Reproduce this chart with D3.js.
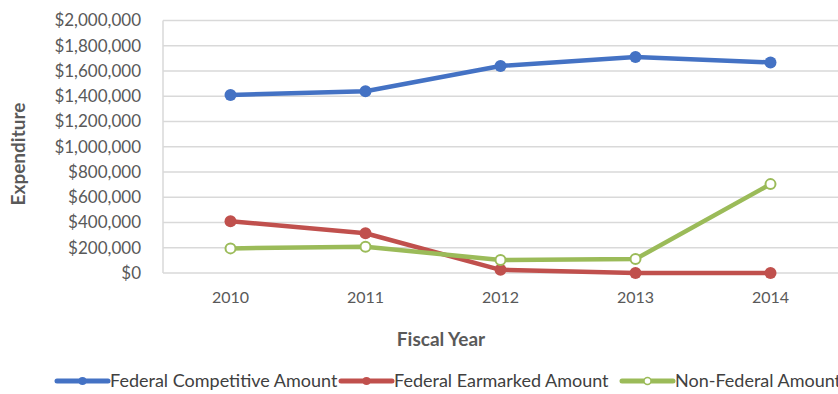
<!DOCTYPE html>
<html>
<head>
<meta charset="utf-8">
<script src="https://cdn.jsdelivr.net/npm/d3@7"></script>
<style>
body { margin:0; background:#fff; }
svg { display:block; font-family: Lato, 'Open Sans', sans-serif; }
</style>
</head>
<body>
<div id="graph"></div>
<script>
var years = ['2010', '2011', '2012', '2013', '2014']
var competitive = [1410000, 1440000, 1640000, 1710000, 1668000]
var earmarked = [410000, 315000, 25000, 0, 0]
var nonFederal = [195000, 208000, 103000, 110000, 704000]
var yTicks = [0, 200000, 400000, 600000, 800000, 1000000, 1200000, 1400000, 1600000, 1800000, 2000000]

var series = [
	{ label: 'Federal Competitive Amount', values: competitive, color: '#4472c4', hollow: false },
	{ label: 'Federal Earmarked Amount', values: earmarked, color: '#c0504d', hollow: false },
	{ label: 'Non-Federal Amount', values: nonFederal, color: '#9bbb59', hollow: true }
]

var width = 838
var height = 394

var svg = d3.select('#graph').append('svg')
	.attr('width', width)
	.attr('height', height)

var marginLeft = 163
var marginRight = 838
var marginTop = 20.5
var marginBottom = 273

var xScale = d3.scaleBand()
	.domain(years)
	.range([marginLeft, marginRight])

var yScale = d3.scaleLinear()
	.domain([0, 2000000])
	.range([marginBottom, marginTop])

var fmt = d3.format(',')

// gridlines
svg.selectAll('.grid')
	.data(yTicks)
	.enter().append('line')
	.attr('x1', marginLeft)
	.attr('x2', marginRight)
	.attr('y1', function(d) { return yScale(d) })
	.attr('y2', function(d) { return yScale(d) })
	.attr('stroke', '#d9d9d9')
	.attr('stroke-width', 1.5)

svg.append('line')
	.attr('x1', marginLeft).attr('x2', marginLeft)
	.attr('y1', marginTop).attr('y2', marginBottom)
	.attr('stroke', '#d9d9d9')
	.attr('stroke-width', 1.5)

// y labels
svg.selectAll('.ylab')
	.data(yTicks)
	.enter().append('text')
	.attr('x', 141)
	.attr('y', function(d) { return yScale(d) })
	.attr('dy', '0.35em')
	.attr('text-anchor', 'end')
	.attr('font-size', 17)
	.attr('fill', '#595959')
	.text(function(d) { return '$' + fmt(d) })

// x labels
svg.selectAll('.xlab')
	.data(years)
	.enter().append('text')
	.attr('x', function(d) { return xScale(d) + xScale.bandwidth() / 2 })
	.attr('y', 303)
	.attr('text-anchor', 'middle')
	.attr('font-size', 16)
	.attr('fill', '#595959')
	.text(function(d) { return d })

svg.append('text')
	.attr('x', 441)
	.attr('y', 346)
	.attr('text-anchor', 'middle')
	.attr('font-size', 19)
	.attr('font-weight', 'bold')
	.attr('fill', '#595959')
	.text('Fiscal Year')

svg.append('text')
	.attr('transform', 'translate(25,154) rotate(-90)')
	.attr('text-anchor', 'middle')
	.attr('font-size', 19)
	.attr('font-weight', 'bold')
	.attr('fill', '#595959')
	.text('Expenditure')

var line = d3.line()
	.x(function(d, i) { return xScale(years[i]) + xScale.bandwidth() / 2 })
	.y(function(d) { return yScale(d) })

series.forEach(function(s) {
	svg.append('path')
		.attr('d', line(s.values))
		.attr('fill', 'none')
		.attr('stroke', s.color)
		.attr('stroke-width', 4.5)
		.attr('stroke-linejoin', 'round')

	svg.selectAll(null)
		.data(s.values)
		.enter().append('circle')
		.attr('cx', function(d, i) { return xScale(years[i]) + xScale.bandwidth() / 2 })
		.attr('cy', function(d) { return yScale(d) })
		.attr('r', s.hollow ? 5 : 6)
		.attr('fill', s.hollow ? '#fff' : s.color)
		.attr('stroke', s.color)
		.attr('stroke-width', s.hollow ? 2 : 0)
})

// legend
var legendX = [57, 341, 622]
series.forEach(function(s, i) {
	var g = svg.append('g').attr('transform', 'translate(' + legendX[i] + ',381)')
	g.append('line')
		.attr('x1', 0).attr('x2', 51)
		.attr('stroke', s.color)
		.attr('stroke-width', 5)
		.attr('stroke-linecap', 'round')
	g.append('circle')
		.attr('cx', 25.5)
		.attr('r', s.hollow ? 3.5 : 4)
		.attr('fill', s.hollow ? '#fff' : s.color)
		.attr('stroke', s.color)
		.attr('stroke-width', s.hollow ? 1.5 : 0)
	g.append('text')
		.attr('x', 53)
		.attr('dy', '0.35em')
		.attr('font-size', 18)
		.attr('fill', '#404040')
		.text(s.label)
})
</script>
</body>
</html>
